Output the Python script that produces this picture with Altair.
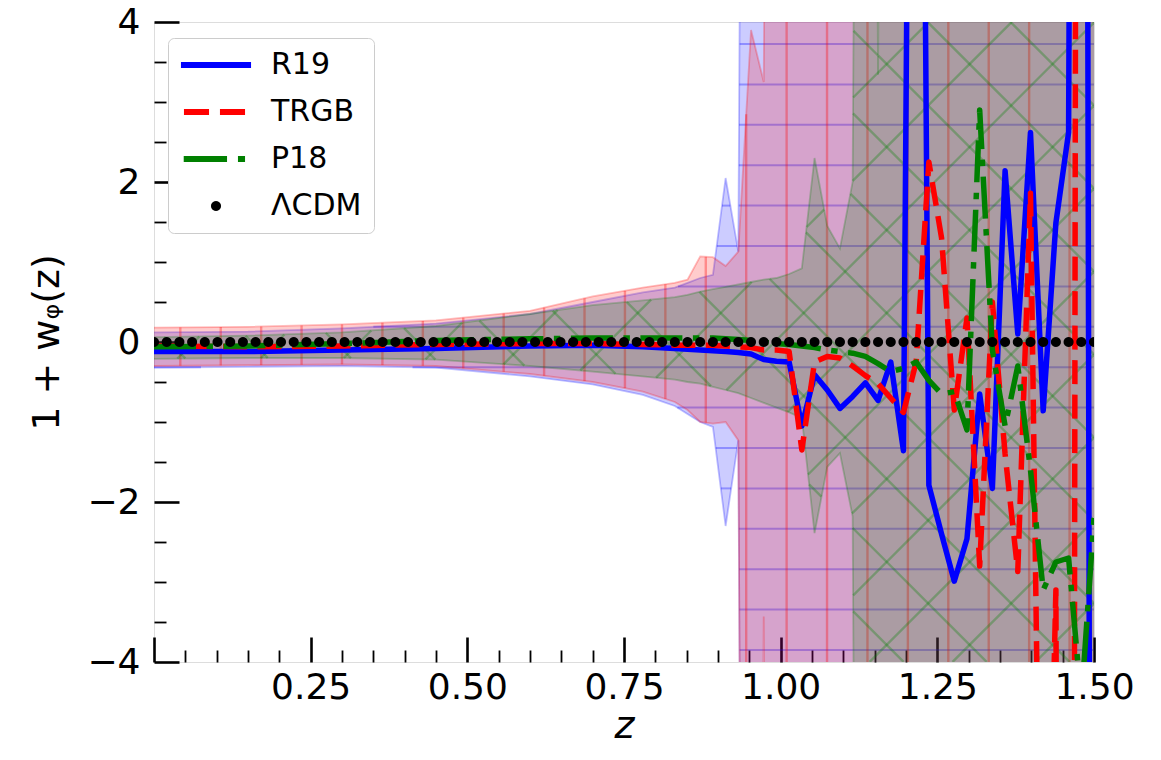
import altair as alt
import numpy as np
import pandas as pd

# ---------------- data ----------------
SERIES = ["R19", "TRGB", "P18", "ΛCDM"]
COLORS = ["#0000ff", "#ff0000", "#008000", "#000000"]

N_Z = 75            # redshift samples (ΛCDM dots), equally spaced on [0, 1.5]
Z_TOP = 1.5
Z_SMOOTH = [0.0, 0.15, 0.3, 0.45, 0.6, 0.7, 0.78]   # knots in the smooth part
K_LINE = list(range(41, 75))                        # sample indices in the noisy part

R19_SMOOTH = [-0.12, -0.12, -0.10, -0.08, -0.05, -0.04, -0.06]
R19_GRID = [-0.08, -0.09, -0.10, -0.11, -0.12, -0.13, -0.15, -0.22, -0.24, -0.25,
            -1.05, -0.41, -0.60, -0.83, -0.68, -0.51, -0.73, -0.25, -1.36, 20.0,
            -1.79, -2.40, -2.99, -2.46, -0.65, -1.83, 2.14, 0.10, 2.62, -0.86,
            1.49, 2.62, 40.0, -30.0]

TRGB_SMOOTH = [-0.05, -0.06, -0.05, -0.03, -0.02, -0.02, -0.03]
TRGB_GRID = [-0.04, -0.04, -0.04, -0.04, -0.05, -0.06, -0.07, -0.10, -0.10, -0.12,
             -1.35, -0.25, -0.18, -0.20, -0.30, -0.42, -0.52, -0.70, -0.88, -0.25,
             2.25, 1.30, -0.85, 0.30, -2.80, 0.50, -1.40, -2.87, 1.86, -10.0,
             -3.10, -50.0, 50.0, 30.0]

P18_SMOOTH = [-0.06, -0.05, -0.02, 0.02, 0.04, 0.05, 0.05]
P18_GRID = [0.05, 0.05, 0.05, 0.05, 0.04, 0.03, 0.02, 0.00, -0.02, -0.03,
            -0.05, -0.07, -0.10, -0.12, -0.14, -0.18, -0.27, -0.37, -0.33, -0.25,
            -0.48, -0.65, -0.62, -1.10, 2.90, -0.10, -1.05, -0.30, -1.60, -3.10,
            -2.75, -2.70, -4.50, -2.20]

# confidence bands (upper / lower), smooth knots + sample-index knots
R19_UP_SMOOTH = [0.12, 0.13, 0.17, 0.23, 0.35, 0.50, 0.62]
R19_LO_SMOOTH = [-0.32, -0.31, -0.30, -0.32, -0.43, -0.53, -0.66]
R19_BAND_K = [41, 42, 43, 44, 45, 46, 47, 74]
R19_UPPER = [0.68, 0.74, 0.80, 0.84, 2.05, 1.13, 30.0, 30.0]
R19_LOWER = [-0.80, -0.90, -1.00, -1.06, -2.30, -1.23, -30.0, -30.0]

TRGB_UP_SMOOTH = [0.18, 0.19, 0.22, 0.27, 0.39, 0.57, 0.68]
TRGB_LO_SMOOTH = [-0.30, -0.29, -0.28, -0.30, -0.40, -0.50, -0.62]
TRGB_BAND_K = [41, 42, 43, 44, 45, 46, 47, 48, 49, 74]
TRGB_UPPER = [0.74, 0.78, 1.07, 1.06, 0.95, 1.13, 3.90, 3.25, 30.0, 30.0]
TRGB_LOWER = [-0.75, -0.85, -1.00, -1.02, -1.00, -1.23, -30.0, -3.43, -30.0, -30.0]

P18_UP_SMOOTH = [0.06, 0.08, 0.12, 0.20, 0.35, 0.46, 0.52]
P18_LO_SMOOTH = [-0.21, -0.20, -0.20, -0.22, -0.30, -0.37, -0.43]
P18_BAND_K = [41, 42, 43, 44, 45, 46, 47, 48, 49, 50, 51, 52, 53, 54, 55, 56, 57, 58, 74]
P18_UPPER = [0.56, 0.59, 0.63, 0.66, 0.69, 0.72, 0.75, 0.78, 0.80, 0.85, 0.92, 2.30,
             1.45, 1.17, 2.00, 30.0, 3.34, 30.0, 30.0]
P18_LOWER = [-0.47, -0.50, -0.52, -0.56, -0.60, -0.64, -0.70, -0.76, -0.82, -0.88,
             -0.95, -2.39, -1.56, -1.39, -2.18, -30.0, -30.0, -30.0, -30.0]

X_LABELS = [0.25, 0.5, 0.75, 1.0, 1.25, 1.5]
X_MINOR = [0.05, 0.1, 0.15, 0.2, 0.3, 0.35, 0.4, 0.45, 0.55, 0.6, 0.65, 0.7, 0.8,
           0.85, 0.9, 0.95, 1.05, 1.1, 1.15, 1.2, 1.3, 1.35, 1.4, 1.45]
Y_LABELS = [-4, -2, 0, 2, 4]
Y_MINOR = [-3.5, -3, -2.5, -1.5, -1, -0.5, 0.5, 1, 1.5, 2.5, 3, 3.5]

# ---------------- helpers ----------------
def z_of(k):
    return k * Z_TOP / (N_Z - 1)

def knots(smooth_vals, ks, vals):
    zs = list(Z_SMOOTH) + [z_of(k) for k in ks]
    return np.array(zs), np.array(list(smooth_vals) + list(vals))

W, H = 940, 640
XSCALE = alt.Scale(domain=[0, 1.5], nice=False, zero=False)
YSCALE = alt.Scale(domain=[-4, 4], nice=False, zero=False)
FONT = "DejaVu Sans"

MAIN_X_AXIS = alt.Axis(values=X_LABELS, format=".2f", ticks=False, domain=False, grid=False,
                       labelFlush=False, labelOverlap=False,
                       labelFontSize=36, labelPadding=8, labelFont=FONT, labelColor="black",
                       title="z", titleFontSize=38, titleFontStyle="italic",
                       titleFontWeight="normal", titleFont=FONT, titlePadding=2,
                       titleColor="black")
MAIN_Y_AXIS = alt.Axis(values=Y_LABELS, format="d", ticks=False, domain=False, grid=False,
                       labelFlush=False, labelOverlap=False,
                       labelFontSize=36, labelPadding=14, labelFont=FONT, labelColor="black",
                       title="1 + wᵩ(z)", titleFontSize=38, titleFontWeight="normal",
                       titleFont=FONT, titlePadding=20, titleColor="black")

def X(field):
    return alt.X(field, type="quantitative", scale=XSCALE, axis=MAIN_X_AXIS)

def Y(field):
    return alt.Y(field, type="quantitative", scale=YSCALE, axis=MAIN_Y_AXIS)

zfine = np.linspace(0, 1.5, 6001)

def runs(mask):
    m = mask.astype(int)
    d = np.diff(m)
    starts = list(np.where(d == 1)[0] + 1)
    ends = list(np.where(d == -1)[0])
    if m[0]:
        starts = [0] + starts
    if m[-1]:
        ends = ends + [len(m) - 1]
    return list(zip(starts, ends))

SLOPE = (W / 1.5) / (H / 8.0)   # data slope of a 45-degree hatch stroke

def hatch_segments(zk, lo, hi, kind):
    lo_f = np.interp(zfine, zk, lo)
    hi_f = np.interp(zfine, zk, hi)
    bot = np.maximum(lo_f, -4)
    top = np.minimum(hi_f, 4)
    segs = []
    if kind == "|":
        for zv in np.arange(0.042, 1.5, 0.0645):
            a = max(np.interp(zv, zk, lo), -4)
            b = min(np.interp(zv, zk, hi), 4)
            if b > a:
                segs.append((zv, a, zv, b))
    elif kind == "-":
        for yv in 0.19 + 0.505 * np.arange(-8, 8):
            mask = (lo_f <= yv) & (hi_f >= yv)
            for s, e in runs(mask):
                segs.append((zfine[s], yv, zfine[e], yv))
    else:
        fams = [(1.0, 0.858 + 0.1324 * np.arange(-12, 11)),
                (-1.0, 1.745 + 0.1324 * np.arange(-19, 4))]
        for sgn, zints in fams:
            for z0 in zints:
                yy = sgn * SLOPE * (zfine - z0)
                mask = (yy >= bot) & (yy <= top)
                for s, e in runs(mask):
                    segs.append((zfine[s], yy[s], zfine[e], yy[e]))
    return pd.DataFrame(segs, columns=["z1", "y1", "z2", "y2"])

def band_layers(zk, lo, hi, color, kind, hatch_op, hatch_w):
    bdf = pd.DataFrame({"z": zk, "lo": lo, "hi": hi})
    area = alt.Chart(bdf).mark_area(color=color, opacity=0.2, clip=True).encode(
        x=X("z"), y=Y("lo"), y2="hi")
    e1 = alt.Chart(bdf).mark_line(color=color, opacity=0.25, strokeWidth=1.8, clip=True).encode(
        x=X("z"), y=Y("hi"))
    e2 = alt.Chart(bdf).mark_line(color=color, opacity=0.25, strokeWidth=1.8, clip=True).encode(
        x=X("z"), y=Y("lo"))
    hdf = hatch_segments(zk, lo, hi, kind)
    hatch = alt.Chart(hdf).mark_rule(color=color, opacity=hatch_op, strokeWidth=hatch_w,
                                     clip=True).encode(
        x=X("z1"), x2="z2", y=Y("y1"), y2="y2")
    return [area, hatch, e1, e2]

layers = []
zb, up = knots(R19_UP_SMOOTH, R19_BAND_K, R19_UPPER)
_, lo = knots(R19_LO_SMOOTH, R19_BAND_K, R19_LOWER)
layers += band_layers(zb, lo, up, COLORS[0], "-", 0.3, 2.0)
zb, up = knots(TRGB_UP_SMOOTH, TRGB_BAND_K, TRGB_UPPER)
_, lo = knots(TRGB_LO_SMOOTH, TRGB_BAND_K, TRGB_LOWER)
layers += band_layers(zb, lo, up, COLORS[1], "|", 0.32, 2.4)
zb, up = knots(P18_UP_SMOOTH, P18_BAND_K, P18_UPPER)
_, lo = knots(P18_LO_SMOOTH, P18_BAND_K, P18_LOWER)
layers += band_layers(zb, lo, up, COLORS[2], "x", 0.3, 2.4)

LW = 5.5
line_specs = [(R19_SMOOTH, R19_GRID, COLORS[0], None),
              (TRGB_SMOOTH, TRGB_GRID, COLORS[1], [24, 10.5]),
              (P18_SMOOTH, P18_GRID, COLORS[2], [42, 10.5, 6.5, 10.5])]
for sm, gr, col, dash in line_specs:
    zl, yl = knots(sm, K_LINE, gr)
    ldf = pd.DataFrame({"z": zl, "y": yl})
    kw = dict(color=col, strokeWidth=LW, strokeJoin="round", clip=True)
    if dash:
        kw["strokeDash"] = dash
    layers.append(alt.Chart(ldf).mark_line(**kw).encode(x=X("z"), y=Y("y")))

# legend glyphs (unit = sqrt(size)/2 px) and the ΛCDM dots
SYM_SIZE = 576
ang = np.linspace(0, 2 * np.pi, 21)[:-1]
circ = "M" + "L".join(f"{0.42*np.cos(a):.3f},{0.42*np.sin(a):.3f}" for a in ang) + "Z"
SHAPES = ["M-2.92,-0.26H2.92V0.26H-2.92Z",
          "M-2.67,-0.26H-0.58V0.26H-2.67ZM0.33,-0.26H2.42V0.26H0.33Z",
          "M-2.69,-0.26H0.92V0.26H-2.69ZM1.83,-0.26H2.42V0.26H1.83Z",
          circ]

dots = pd.DataFrame({"z": np.linspace(0, Z_TOP, N_Z), "y": 0.0, "series": "ΛCDM"})
LEG = alt.Legend(title=None, orient="none", legendX=14, legendY=16, labelFontSize=30,
                 labelFont=FONT, labelColor="black", symbolSize=SYM_SIZE, symbolStrokeWidth=0,
                 symbolOpacity=1, symbolOffset=21, labelOffset=40, rowPadding=17, padding=12,
                 fillColor="white", strokeColor="#cccccc", cornerRadius=6)
layers.append(alt.Chart(dots).mark_point(filled=True, size=SYM_SIZE, opacity=1, strokeWidth=0,
                                         clip=True).encode(
    x=X("z"), y=Y("y"),
    color=alt.Color("series:N", scale=alt.Scale(domain=SERIES, range=COLORS), legend=LEG),
    shape=alt.Shape("series:N", scale=alt.Scale(domain=SERIES, range=SHAPES), legend=LEG)))

main = alt.layer(*layers)

def tick_layer(xvals, yvals, length, width):
    ax = alt.Axis(values=xvals, orient="bottom", offset=-length, tickSize=length, labels=False,
                  domain=False, grid=False, title=None, tickColor="black", tickWidth=width)
    ay = alt.Axis(values=yvals, orient="left", offset=-length, tickSize=length, labels=False,
                  domain=False, grid=False, title=None, tickColor="black", tickWidth=width)
    return alt.Chart(dots).mark_point(opacity=0).encode(
        x=alt.X("z:Q", scale=XSCALE, axis=ax), y=alt.Y("y:Q", scale=YSCALE, axis=ay))

chart = alt.layer(main, tick_layer([0.0] + X_LABELS, Y_LABELS, 25, 2.6),
                  tick_layer(X_MINOR, Y_MINOR, 12, 1.8)).resolve_scale(
    x="independent", y="independent").properties(
    width=W, height=H, padding={"left": 154, "top": 22, "right": 67, "bottom": 98},
    autosize=alt.AutoSizeParams(type="none"),
).configure_view(stroke="black", strokeWidth=2.5).configure(background="white")

chart.save("out.html", embed_options={"renderer": "svg", "actions": False})
